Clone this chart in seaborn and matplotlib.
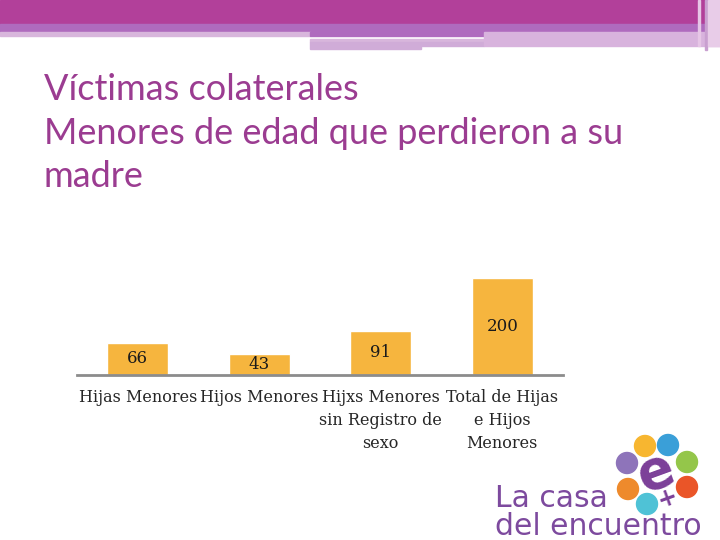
import numpy as np
import pandas as pd
import matplotlib
matplotlib.use("Agg")
import matplotlib.pyplot as plt
import matplotlib.patches as mpatches
import seaborn as sns

# chart data
categorias = ["Hijas Menores", "Hijos Menores",
              "Hijxs Menores\nsin Registro de\nsexo",
              "Total de Hijas\ne Hijos\nMenores"]
valores = [66, 43, 91, 200]

titulo = ["Víctimas colaterales",
          "Menores de edad que perdieron a su",
          "madre"]
logo_texto = ["La casa", "del encuentro"]

df = pd.DataFrame({"categoria": categorias, "valor": valores})

sns.set_style("white")
plt.rcParams["font.family"] = ["DejaVu Serif"]

W, H = 720, 540
fig = plt.figure(figsize=(7.2, 5.4), dpi=100)

# header bands (pixel coords -> figure fraction)
def band(x0, y0, x1, y1, color):
    fig.patches.append(mpatches.Rectangle((x0 / W, 1 - y1 / H), (x1 - x0) / W, (y1 - y0) / H,
                                          transform=fig.transFigure, color=color, zorder=0))

band(0, 0, 720, 24, "#B2409A")
band(0, 24, 720, 32, "#AF6BBE")
band(0, 32, 310, 36, "#D8B6DC")
band(310, 32, 720, 36, "#AF6BBE")
band(310, 39, 484, 42, "#D8B6DC")
band(310, 42, 421, 49, "#D0ACD8")
band(421, 42, 484, 46, "#D0ACD8")
band(484, 32, 720, 46, "#D8B3DD")
band(698, 0, 700, 46, "#E6C6E6")
band(705, 0, 707, 50, "#C9A0D0")
band(708, 0, 720, 46, "#E8CCE8")

# title
for i, linea in enumerate(titulo):
    fig.text(44 / W, 1 - (100 + i * 43.5) / H, linea, family="Lato", fontsize=26,
             color="#9B3C91", va="baseline", ha="left")

# bar chart
ax = fig.add_axes([77 / W, 1 - 375 / H, 486 / W, 97.3 / H])
sns.barplot(data=df, x="categoria", y="valor", color="#F6B53E", saturation=1,
            width=0.5, ax=ax)
ax.set_xlim(-0.5, 3.5)
ax.set_ylim(0, 200)
for i, v in enumerate(valores):
    ax.text(i, v / 2, str(v), ha="center", va="center", fontsize=12, color="#1a1a1a")

sns.despine(ax=ax, left=True)
ax.spines["bottom"].set_color("#8C8C8C")
ax.spines["bottom"].set_linewidth(2)
ax.set_yticks([])
ax.set_xlabel("")
ax.set_ylabel("")
ax.tick_params(axis="x", length=0, pad=10, labelsize=11.5)
for lbl in ax.get_xticklabels():
    lbl.set_linespacing(1.48)
ax.patch.set_alpha(0)

# logo
circulos = [(645, 446, "#F7B630"), (668, 445, "#3A9FD8"), (627, 463, "#8E74BA"),
            (687, 462, "#94C64A"), (628, 489, "#EE8A2C"), (687, 487, "#EA5528"),
            (647, 504, "#4FC2D6")]
for cx, cy, c in circulos:
    fig.patches.append(mpatches.Ellipse((cx / W, 1 - cy / H), 21 / W, 21 / H,
                                        transform=fig.transFigure, color=c, zorder=1))
fig.text(656 / W, 1 - 472 / H, "e", family="DejaVu Sans", fontweight="bold", fontsize=38,
         color="#7B3F98", ha="center", va="center", rotation=20, zorder=3)
fig.text(667 / W, 1 - 498 / H, "+", family="DejaVu Sans", fontweight="bold", fontsize=17,
         color="#7B3F98", ha="center", va="center", rotation=20, zorder=3)
fig.text(495 / W, 1 - 507 / H, logo_texto[0], family="DejaVu Sans", fontsize=21.5,
         color="#7D4A9E", va="baseline", ha="left")
fig.text(495 / W, 1 - 535 / H, logo_texto[1], family="DejaVu Sans", fontsize=21.5,
         color="#7D4A9E", va="baseline", ha="left")

fig.savefig("out.png", dpi=100)
